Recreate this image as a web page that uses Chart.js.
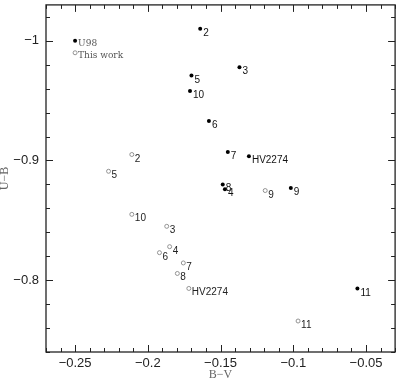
<!DOCTYPE html>
<html>
<head>
<meta charset="utf-8">
<script src="https://cdn.jsdelivr.net/npm/chart.js@4/dist/chart.umd.min.js"></script>
<style>
  body { margin: 0; background: #fff; }
  canvas { display: block; }
</style>
</head>
<body>
<canvas id="myChart" width="400" height="381"></canvas>
<script>
// U98 (filled points)
const u98Labels = ['2', '3', '5', '10', '6', '7', 'HV2274', '8', '4', '9', '11'];
const u98BV = [-0.164, -0.137, -0.170, -0.171, -0.158, -0.145, -0.1305, -0.1485, -0.147, -0.1017, -0.0559];
const u98UB = [-1.010, -0.978, -0.971, -0.958, -0.933, -0.907, -0.9035, -0.880, -0.876, -0.877, -0.793];

// This work (open points)
const workLabels = ['2', '5', '10', '3', '4', '6', '7', '8', 'HV2274', '9', '11'];
const workBV = [-0.211, -0.227, -0.211, -0.187, -0.185, -0.192, -0.1756, -0.1797, -0.1718, -0.1193, -0.0967];
const workUB = [-0.905, -0.891, -0.855, -0.845, -0.828, -0.823, -0.8144, -0.8056, -0.7931, -0.8749, -0.7659];

// key drawn inside the plot
const keyLabels = ['U98', 'This work'];
const keyBV = [-0.25, -0.25];
const keyUB = [-1.0, -0.99];

// ticks
const xTicks = [-0.25, -0.2, -0.15, -0.1, -0.05];
const yTicks = [-1, -0.9, -0.8];

const toPts = (xs, ys) => xs.map((x, i) => ({x: x, y: ys[i]}));
const minus = v => (v < 0 ? '\u2212' : '') + Math.abs(v);

// fixed axis sizes, no extra label padding
const fixSize = (w, h) => s => {
  if (w) s.width = w;
  if (h) s.height = h;
  s.paddingLeft = s.paddingRight = s.paddingTop = s.paddingBottom = 0;
};

// frame + inward tick marks on all four sides
const framePlugin = {
  id: 'frame',
  afterDraw(chart) {
    const ctx = chart.ctx;
    const a = chart.chartArea;
    const xs = chart.scales.x, ys = chart.scales.y;
    ctx.save();
    ctx.strokeStyle = '#222';
    ctx.lineWidth = 1;
    ctx.beginPath();
    for (let i = -27; i <= -3; i++) {
      const px = Math.round(xs.getPixelForValue(i / 100)) + 0.5;
      const len = i % 5 === 0 ? 7 : 4;
      ctx.moveTo(px, a.bottom); ctx.lineTo(px, a.bottom - len);
      ctx.moveTo(px, a.top); ctx.lineTo(px, a.top + len);
    }
    for (let i = -51; i <= -37; i++) {
      const py = Math.round(ys.getPixelForValue(i * 0.02)) + 0.5;
      const len = i % 5 === 0 ? 7 : 4;
      ctx.moveTo(a.left, py); ctx.lineTo(a.left + len, py);
      ctx.moveTo(a.right, py); ctx.lineTo(a.right - len, py);
    }
    ctx.stroke();
    ctx.lineWidth = 1.3;
    ctx.strokeRect(a.left, a.top, a.right - a.left, a.bottom - a.top);
    ctx.restore();
  }
};

// point labels
const labelPlugin = {
  id: 'ptlabels',
  afterDatasetsDraw(chart) {
    const ctx = chart.ctx;
    ctx.save();
    ctx.textAlign = 'left';
    ctx.textBaseline = 'alphabetic';
    chart.data.datasets.forEach((ds, di) => {
      const meta = chart.getDatasetMeta(di);
      ctx.font = ds.labelFont;
      ctx.fillStyle = ds.labelColor;
      meta.data.forEach((el, i) => {
        ctx.fillText(ds.labels[i], el.x + 3, el.y + ds.labelDy);
      });
    });
    ctx.restore();
  }
};

const config = {
  type: 'scatter',
  data: {
    datasets: [
      {
        data: toPts(u98BV, u98UB), labels: u98Labels,
        pointRadius: 2, pointBackgroundColor: '#000', pointBorderColor: '#000', pointBorderWidth: 0,
        labelFont: "10px 'Liberation Sans'", labelColor: '#111', labelDy: 7
      },
      {
        data: toPts(workBV, workUB), labels: workLabels,
        pointRadius: 2, pointBackgroundColor: 'rgba(0,0,0,0)', pointBorderColor: '#888', pointBorderWidth: 0.9,
        labelFont: "10px 'Liberation Sans'", labelColor: '#222', labelDy: 7
      },
      {
        data: toPts(keyBV, keyUB), labels: keyLabels,
        pointRadius: 2, pointBackgroundColor: ['#000', 'rgba(0,0,0,0)'], pointBorderColor: ['#000', '#888'], pointBorderWidth: [0, 0.9],
        labelFont: "9px 'DejaVu Serif'", labelColor: '#555', labelDy: 5.5
      }
    ]
  },
  options: {
    responsive: false,
    animation: false,
    layout: { padding: { top: 4, right: 4, left: 0, bottom: 0 } },
    plugins: { legend: { display: false }, tooltip: { enabled: false } },
    scales: {
      x: {
        type: 'linear', min: -0.27, max: -0.03,
        afterBuildTicks: s => { s.ticks = xTicks.map(v => ({value: v})); },
        afterFit: fixSize(0, 29),
        grid: { display: false, drawTicks: false },
        border: { display: false },
        ticks: { padding: 5, color: '#222', font: { family: "'Liberation Sans'", size: 13, lineHeight: 1 }, callback: v => minus(v) },
        title: { display: true, text: 'B\u2212V', color: '#666', padding: { top: 0, bottom: 0 }, font: { family: "'Liberation Serif'", size: 12, lineHeight: 1 } }
      },
      y: {
        type: 'linear', min: -1.03, max: -0.74, reverse: true,
        afterBuildTicks: s => { s.ticks = yTicks.map(v => ({value: v})); },
        afterFit: fixSize(46, 0),
        grid: { display: false, drawTicks: false },
        border: { display: false },
        ticks: { padding: 7, color: '#222', font: { family: "'Liberation Sans'", size: 13, lineHeight: 1 }, callback: v => minus(v) },
        title: { display: true, text: 'U\u2212B', color: '#666', padding: { top: 0, bottom: 5.7 }, font: { family: "'Liberation Serif'", size: 12, lineHeight: 0.8 } }
      }
    }
  },
  plugins: [framePlugin, labelPlugin]
};

window.addEventListener('load', function() {
  const ctx = document.getElementById('myChart').getContext('2d');
  new Chart(ctx, config);
}, false);
</script>
</body>
</html>
